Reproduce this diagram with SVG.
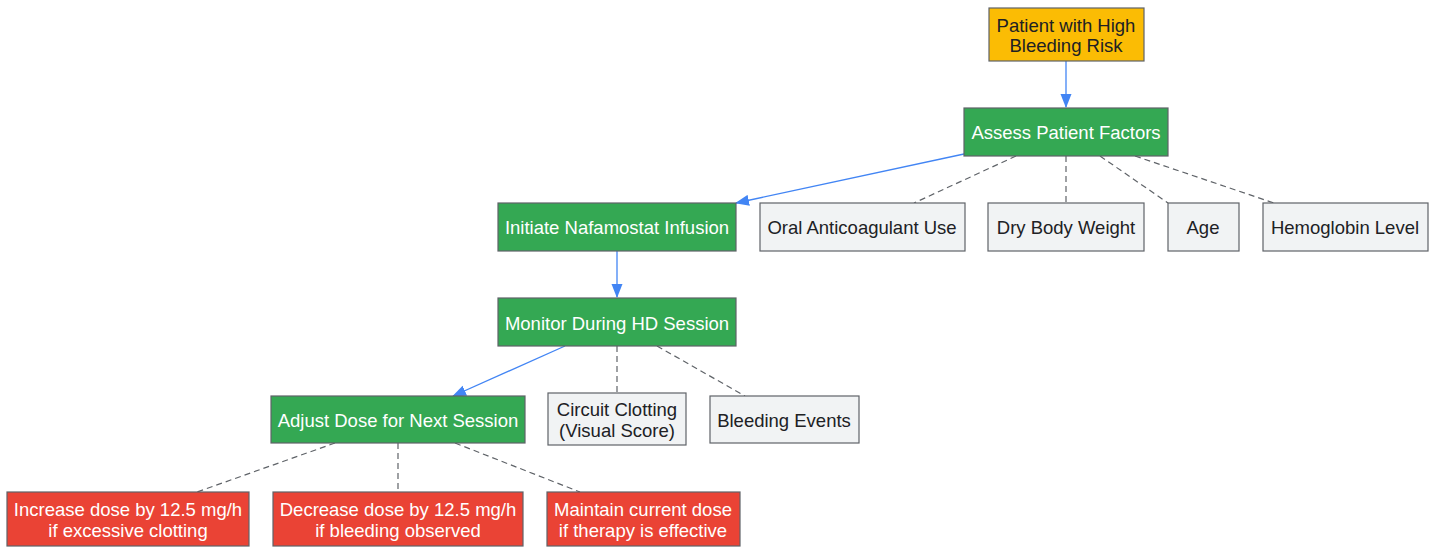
<svg xmlns="http://www.w3.org/2000/svg" width="1436" height="547" viewBox="0 0 1436 547">
<defs>
<marker id="arr" markerWidth="14" markerHeight="12" viewBox="0 0 14 12" refX="13" refY="6" orient="auto" markerUnits="userSpaceOnUse">
<path d="M0,0.5 L14,6 L0,11.5 z" fill="#4285F4"/>
</marker>
<style>
.n rect{stroke:#5f6368;stroke-width:1.2}
.y rect{fill:#FBBC04}
.g rect{fill:#34A853}
.r rect{fill:#EA4335}
.w rect{fill:#F1F3F4}
text{font-family:"Liberation Sans",Arial,sans-serif;font-size:18.5px;text-anchor:middle}
.y text,.w text{fill:#202124}
.g text,.r text{fill:#ffffff}
.solid{stroke:#4285F4;stroke-width:1.3;fill:none}
.dash{stroke:#5f6368;stroke-width:1.2;stroke-dasharray:6,4;fill:none}
</style>
</defs>
<rect width="1436" height="547" fill="#ffffff"/>
<g id="connectors">
<line class="solid" x1="1066" y1="61" x2="1066" y2="107" marker-end="url(#arr)"/>
<line class="solid" x1="964" y1="154" x2="736" y2="203" marker-end="url(#arr)"/>
<line class="dash" x1="1016" y1="156" x2="914" y2="203"/>
<line class="dash" x1="1066" y1="156" x2="1066" y2="203"/>
<line class="dash" x1="1100" y1="156" x2="1168" y2="203"/>
<line class="dash" x1="1135" y1="156" x2="1274" y2="203"/>
<line class="solid" x1="617" y1="251" x2="617" y2="297" marker-end="url(#arr)"/>
<line class="solid" x1="565" y1="346" x2="453" y2="396" marker-end="url(#arr)"/>
<line class="dash" x1="617" y1="346" x2="617" y2="393"/>
<line class="dash" x1="657" y1="346" x2="745" y2="396"/>
<line class="dash" x1="335" y1="443" x2="197" y2="492"/>
<line class="dash" x1="398" y1="443" x2="398" y2="492"/>
<line class="dash" x1="455" y1="443" x2="580" y2="492"/>
</g>
<g id="patient" class="n y"><rect x="989" y="8" width="155" height="53"/><text x="1066" y="32">Patient with High</text><text x="1066" y="52">Bleeding Risk</text></g>
<g id="assess" class="n g"><rect x="964" y="108" width="204" height="48"/><text x="1066" y="139">Assess Patient Factors</text></g>
<g id="initiate" class="n g"><rect x="498" y="203" width="238" height="48"/><text x="617" y="234">Initiate Nafamostat Infusion</text></g>
<g id="oral" class="n w"><rect x="760" y="203" width="205" height="48"/><text x="862" y="234">Oral Anticoagulant Use</text></g>
<g id="dry" class="n w"><rect x="988" y="203" width="156" height="48"/><text x="1066" y="234">Dry Body Weight</text></g>
<g id="age" class="n w"><rect x="1168" y="203" width="71" height="48"/><text x="1203" y="234">Age</text></g>
<g id="hemo" class="n w"><rect x="1263" y="203" width="165" height="48"/><text x="1345" y="234">Hemoglobin Level</text></g>
<g id="monitor" class="n g"><rect x="498" y="298" width="238" height="48"/><text x="617" y="330">Monitor During HD Session</text></g>
<g id="adjust" class="n g"><rect x="271" y="396" width="254" height="47"/><text x="398" y="427">Adjust Dose for Next Session</text></g>
<g id="circuit" class="n w"><rect x="548" y="393" width="138" height="52"/><text x="617" y="416">Circuit Clotting</text><text x="617" y="437">(Visual Score)</text></g>
<g id="bleeding" class="n w"><rect x="710" y="396" width="149" height="47"/><text x="784" y="427">Bleeding Events</text></g>
<g id="increase" class="n r"><rect x="7" y="492" width="242" height="54"/><text x="128" y="516">Increase dose by 12.5 mg/h</text><text x="128" y="537">if excessive clotting</text></g>
<g id="decrease" class="n r"><rect x="273" y="492" width="250" height="54"/><text x="398" y="516">Decrease dose by 12.5 mg/h</text><text x="398" y="537">if bleeding observed</text></g>
<g id="maintain" class="n r"><rect x="547" y="492" width="193" height="54"/><text x="643" y="516">Maintain current dose</text><text x="643" y="537">if therapy is effective</text></g>
</svg>
